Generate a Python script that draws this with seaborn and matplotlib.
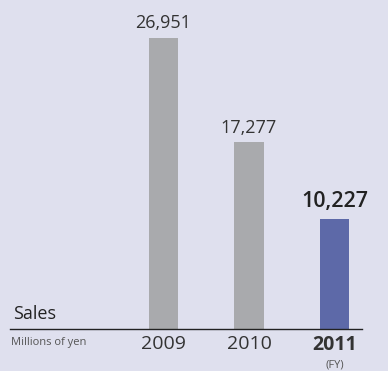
import matplotlib
matplotlib.use("Agg")
import matplotlib.pyplot as plt
import seaborn as sns
import pandas as pd

# Sales by fiscal year (millions of yen)
years = ["2009", "2010", "2011"]
sales = [26951, 17277, 10227]
bar_colors = ["#a9aaad", "#a9aaad", "#5d69a8"]
value_labels = ["26,951", "17,277", "10,227"]

bg = "#dfe0ee"
text_col = "#333333"

sns.set_theme(style="white")
plt.rcParams["font.family"] = ["Open Sans", "DejaVu Sans"]

df = pd.DataFrame({"year": years, "sales": sales})

fig = plt.figure(figsize=(3.88, 3.71), dpi=100, facecolor=bg)
ax = fig.add_axes([10 / 388, 42 / 371, 352 / 388, 329 / 371])
ax.set_facecolor(bg)

sns.barplot(data=df, x="year", y="sales", hue="year",
            palette=dict(zip(years, bar_colors)), width=0.34,
            legend=False, ax=ax, saturation=1, edgecolor="none", linewidth=0)

ax.set_xlim(-1.795, 2.322)
ax.set_ylim(0, 30470)

for s in ["top", "left", "right"]:
    ax.spines[s].set_visible(False)
ax.spines["bottom"].set_color("#222222")
ax.spines["bottom"].set_linewidth(1.0)

ax.set_yticks([])
ax.set_xlabel("")
ax.set_ylabel("")
ax.tick_params(axis="x", length=0, pad=4, labelsize=14, labelcolor=text_col)
for lbl in ax.get_xticklabels():
    if lbl.get_text() == "2011":
        lbl.set_fontweight("bold")

# value labels above the bars
for i, (v, t) in enumerate(zip(sales, value_labels)):
    last = i == len(sales) - 1
    ax.annotate(t, (i, v), xytext=(0, 5 if last else 4), textcoords="offset points",
                ha="center", va="bottom", color="#222222" if last else text_col,
                fontsize=15.5 if last else 13,
                fontweight="semibold" if last else "normal")

# fiscal-year note under the last label
ax.annotate("(FY)", (2, 0), xytext=(0, -22), textcoords="offset points",
            ha="center", va="top", fontsize=8, color="#555555",
            annotation_clip=False)

ax.text(0.008, 0.018, "Sales", transform=ax.transAxes, ha="left", va="bottom",
        fontsize=13, color="#222222")
ax.text(0.004, -0.025, "Millions of yen", transform=ax.transAxes, ha="left", va="top",
        fontsize=8, color="#555555")

fig.savefig("out.png", dpi=100, facecolor=bg)
